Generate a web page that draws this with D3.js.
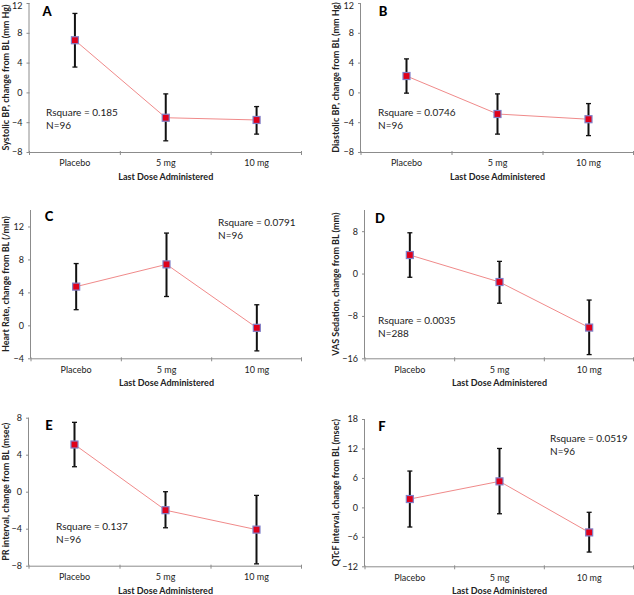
<!DOCTYPE html>
<html><head><meta charset="utf-8">
<script src="https://cdn.jsdelivr.net/npm/d3@7"></script>
<style>
html,body{margin:0;padding:0;background:#fff;}
svg{display:block;}
text{font-family:Lato,"Open Sans",sans-serif;}
</style></head>
<body>
<script>
// ---- data ----
const categories = ["Placebo", "5 mg", "10 mg"];
const xAxisTitle = "Last Dose Administered";

const sysMean = [7.0, -3.4, -3.7];
const sysLow  = [3.4, -6.5, -5.6];
const sysHigh = [10.6, -0.2, -1.9];

const diaMean = [2.2, -2.9, -3.6];
const diaLow  = [-0.1, -5.6, -5.8];
const diaHigh = [4.5, -0.2, -1.5];

const hrMean = [4.7, 7.4, -0.3];
const hrLow  = [1.9, 3.5, -3.1];
const hrHigh = [7.5, 11.2, 2.5];

const vasMean = [3.5, -1.6, -10.2];
const vasLow  = [-0.7, -5.6, -15.3];
const vasHigh = [7.7, 2.3, -5.0];

const prMean = [5.1, -2.0, -4.1];
const prLow  = [2.7, -3.9, -7.8];
const prHigh = [7.5, 0.0, -0.4];

const qtMean = [1.7, 5.3, -5.1];
const qtLow  = [-4.0, -1.3, -9.1];
const qtHigh = [7.4, 12.0, -1.0];

const yTitles = ["Systolic BP, change from BL (mm Hg)", "Diastolic BP, change from BL (mm Hg)",
  "Heart Rate, change from BL (/min)", "VAS Sedation, change from BL (mm)",
  "PR interval, change from BL (msec)", "QTcF interval, change from BL (msec)"];
const letters = ["A", "B", "C", "D", "E", "F"];
const rsq = ["Rsquare = 0.185", "Rsquare = 0.0746", "Rsquare = 0.0791", "Rsquare = 0.0035", "Rsquare = 0.137", "Rsquare = 0.0519"];
const nLabels = ["N=96", "N=96", "N=96", "N=288", "N=96", "N=96"];
const yDomains = [[-8, 12], [-8, 12], [-4, 14], [-16, 12], [-8, 8], [-12, 18]];
const yTicks = [[-8, -4, 0, 4, 8, 12], [-8, -4, 0, 4, 8, 12], [-4, 0, 4, 8, 12], [-16, -8, 0, 8], [-8, -4, 0, 4, 8], [-12, -6, 0, 6, 12, 18]];
const means = [sysMean, diaMean, hrMean, vasMean, prMean, qtMean];
const lows = [sysLow, diaLow, hrLow, vasLow, prLow, qtLow];
const highs = [sysHigh, diaHigh, hrHigh, vasHigh, prHigh, qtHigh];

// ---- layout ----
const layout = [
  {x0: 29.5, x1: 302, yT: 3, yB: 152, titleX: 7, letterX: 47, letterY: 13, txtX: 46, txtY: 113},
  {x0: 361, x1: 634, yT: 3, yB: 152, titleX: 337, letterX: 383, letterY: 13, txtX: 378, txtY: 113},
  {x0: 31, x1: 302, yT: 210, yB: 358.3, titleX: 7, letterX: 49, letterY: 218, txtX: 218, txtY: 223},
  {x0: 365, x1: 634, yT: 210, yB: 358.3, titleX: 337, letterX: 380, letterY: 220, txtX: 378, txtY: 321},
  {x0: 29, x1: 302, yT: 417.7, yB: 565.7, titleX: 7, letterX: 49, letterY: 427, txtX: 56, txtY: 527},
  {x0: 365, x1: 634, yT: 419, yB: 566.3, titleX: 337, letterX: 382, letterY: 428, txtX: 550, txtY: 439}
];

const svg = d3.select("body").append("svg").attr("width", 634).attr("height", 595);

layout.forEach((L, i) => {
  const g = svg.append("g");
  const x = d3.scaleBand().domain(categories).range([L.x0, L.x1]);
  const y = d3.scaleLinear().domain(yDomains[i]).range([L.yB, L.yT]);
  const cx = c => x(c) + x.bandwidth() / 2;

  // y axis
  const ya = g.append("g").attr("transform", `translate(${L.x0},0)`)
    .call(d3.axisLeft(y).tickValues(yTicks[i]).tickSize(3).tickPadding(4).tickFormat(d3.format("d")));
  ya.select(".domain").attr("stroke", "#8c8c8c").attr("d", `M-0.5,${L.yT}V${L.yB}`);
  ya.selectAll(".tick line").attr("stroke", "#8c8c8c");
  ya.selectAll(".tick text").attr("font-size", 9).attr("fill", "#222").attr("font-family", "Lato, sans-serif")
    .attr("dy", d => (y(d) < 8 ? "0.62em" : "0.32em"));

  // x axis
  const xa = g.append("g").attr("transform", `translate(0,${L.yB})`)
    .call(d3.axisBottom(x).tickSize(0).tickPadding(8));
  xa.select(".domain").attr("stroke", "#8c8c8c").attr("d", `M${L.x0},0.5H${L.x1}`);
  xa.selectAll(".tick text").attr("font-size", 9).attr("fill", "#222").attr("font-family", "Lato, sans-serif");
  const edges = [L.x0, L.x0 + x.bandwidth(), L.x0 + 2 * x.bandwidth(), L.x1 - 0.5];
  xa.selectAll("line.edge").data(edges).enter().append("line")
    .attr("x1", d => d).attr("x2", d => d).attr("y1", -1).attr("y2", 3).attr("stroke", "#8c8c8c");

  // x axis title
  g.append("text").attr("x", (L.x0 + L.x1) / 2).attr("y", L.yB + 28)
    .attr("text-anchor", "middle").attr("font-size", 9).attr("font-weight", "bold").attr("fill", "#222")
    .text(xAxisTitle);
  // y axis title
  g.append("text").attr("transform", `translate(${L.titleX},${(L.yT + L.yB) / 2}) rotate(-90)`)
    .attr("text-anchor", "middle").attr("dominant-baseline", "middle")
    .attr("font-size", 9).attr("font-weight", "bold").attr("fill", "#222")
    .text(yTitles[i]);

  // line
  const pts = categories.map((c, k) => [cx(c), y(means[i][k])]);
  g.append("path").attr("d", d3.line()(pts)).attr("fill", "none").attr("stroke", "#f08a8a").attr("stroke-width", 1);

  // error bars
  categories.forEach((c, k) => {
    const px = cx(c);
    g.append("line").attr("x1", px).attr("x2", px).attr("y1", y(lows[i][k])).attr("y2", y(highs[i][k]))
      .attr("stroke", "#111").attr("stroke-width", 2);
    [lows[i][k], highs[i][k]].forEach(v => {
      g.append("line").attr("x1", px - 2.5).attr("x2", px + 2.5).attr("y1", y(v)).attr("y2", y(v))
        .attr("stroke", "#111").attr("stroke-width", 1.3);
    });
  });
  // markers
  categories.forEach((c, k) => {
    g.append("rect").attr("x", cx(c) - 3.5).attr("y", y(means[i][k]) - 3.5).attr("width", 7).attr("height", 7)
      .attr("fill", "#e0001b").attr("stroke", "#8080c8").attr("stroke-width", 1.2);
  });

  // panel letter
  g.append("text").attr("x", L.letterX).attr("y", L.letterY).attr("text-anchor", "middle")
    .attr("dominant-baseline", "middle").attr("font-family", "DejaVu Sans, sans-serif")
    .attr("font-size", 13).attr("font-weight", 900).attr("fill", "#000").text(letters[i]);

  // annotations
  g.append("text").attr("x", L.txtX).attr("y", L.txtY).attr("dominant-baseline", "middle")
    .attr("font-size", 10).attr("fill", "#222").text(rsq[i]);
  g.append("text").attr("x", L.txtX).attr("y", L.txtY + 13).attr("dominant-baseline", "middle")
    .attr("font-size", 10).attr("fill", "#222").text(nLabels[i]);
});
</script>
</body></html>
